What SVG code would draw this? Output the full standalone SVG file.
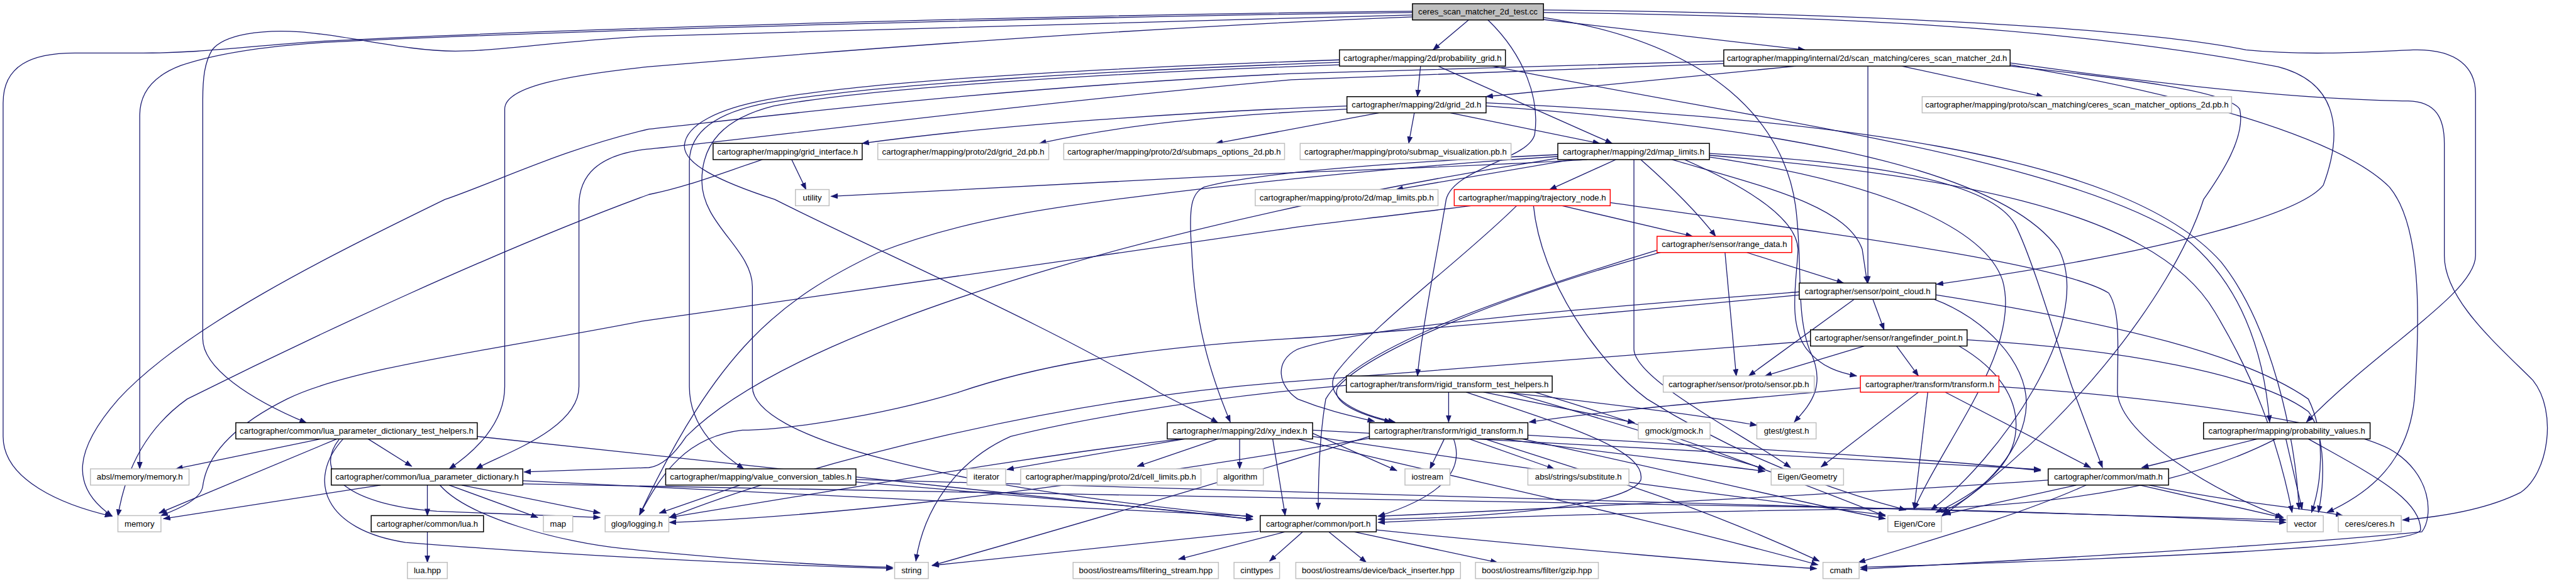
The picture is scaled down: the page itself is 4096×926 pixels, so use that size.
<svg xmlns="http://www.w3.org/2000/svg" width="4096" height="926" viewBox="0 0 4096 926">
<style>
.node rect{fill:#fff;stroke-width:1.5}
.blk rect{stroke:#000}
.gry rect{stroke:#bfbfbf}
.red rect{stroke:#ff0000}
.root rect{fill:#bfbfbf;stroke:#000}
text{font-family:"Liberation Sans",Arial,sans-serif;font-size:13.3px;text-anchor:middle;fill:#000}
.edges path{fill:none;stroke:#191970;stroke-width:1.3;marker-end:url(#a)}
</style>
<defs>
<marker id="a" viewBox="0 0 12 9" refX="11" refY="4.5" markerWidth="12" markerHeight="9" markerUnits="userSpaceOnUse" orient="auto"><path d="M0,0L12,4.5L0,9z" fill="#191970"/></marker>
</defs>
<rect width="4096" height="926" fill="#fff"/>
<g transform="scale(0.992)">
<g class="edges" id="edges">
<path d="M2354,32 L2297,80"/>
<path d="M2471,31 L2893,80"/>
<path d="M2264,18 C1700,24 900,46 520,66 C400,73 330,85 230,85 L120,85 C50,85 5,105 5,165 L5,700 C5,770 100,810 179,828"/>
<path d="M2264,20 C1700,27 900,49 520,68 C410,75 340,88 290,105 C245,122 224,150 224,185 L224,752"/>
<path d="M2264,24 C1800,36 1300,50 1040,58 C900,65 800,82 730,82 C650,82 560,57 480,51 C420,47 360,55 340,80 C328,100 325,125 325,160 L325,543 C325,590 400,640 491,678"/>
<path d="M2264,27 C1800,45 1300,85 1040,107 C900,122 809,140 809,175 L809,620 C809,680 760,725 720,752"/>
<path d="M2385,32 C2445,90 2468,160 2460,215 C2452,255 2330,270 2318,320 C2305,400 2280,520 2272,603"/>
<path d="M2474,20 C2900,25 3300,40 3651,107 C3740,130 3760,200 3724,297 C3690,340 3500,400 3104,456"/>
<path d="M2474,16 C2900,20 3400,40 3600,80 C3700,90 3800,83 3868,80 C3940,78 3968,110 3968,150 L3968,410 C3968,470 3810,560 3697,677"/>
<path d="M2474,28 C2750,70 2860,200 2878,330 C2890,420 2878,500 2900,560 C2930,620 2900,650 2876,677"/>
<path d="M2277,106 L2272,155"/>
<path d="M2305,106 L2584,230"/>
<path d="M2147,96 C1800,108 1400,128 1229,160 C1150,175 1100,200 1097,233 C1095,262 1150,290 1242,320 C1400,400 1700,530 1859,630 C1900,652 1930,665 1952,678"/>
<path d="M2147,100 C1800,112 1400,135 1230,165 C1150,180 1105,210 1105,260 L1105,620 C1105,690 1160,730 1192,752"/>
<path d="M2147,104 C1800,116 1400,140 1240,170 C1160,190 1125,230 1125,290 C1125,360 1206,400 1206,460 L1206,620 C1206,700 1500,780 2008,829"/>
<path d="M2392,106 C2800,190 3300,250 3500,380 C3600,460 3630,580 3638,677"/>
<path d="M2879,106 L2382,155"/>
<path d="M2994,106 L2994,454"/>
<path d="M3048,106 L3275,155"/>
<path d="M2763,98 C2400,108 2100,115 2070,118 C1600,140 1200,190 1040,207 C900,240 800,290 713,320 C550,400 300,520 190,640 C120,720 110,780 180,828"/>
<path d="M2763,102 C2400,115 2200,125 2070,128 C1600,170 1150,230 1030,240 C960,250 928,280 928,330 L928,620 C928,690 800,730 763,752"/>
<path d="M3222,101 C3500,140 3700,160 3860,162 C3905,163 3918,190 3918,230 L3918,410 C3918,480 4000,550 4060,610 C4100,660 4085,760 4040,790 C3980,820 3900,830 3851,834"/>
<path d="M3222,104 C3500,150 3750,220 3830,300 C3880,360 3880,500 3870,640 C3860,740 3800,790 3730,822"/>
<path d="M3222,106 C3400,125 3570,145 3590,175 C3600,220 3560,280 3532,320 C3480,480 3300,700 3112,828"/>
<path d="M2159,170 C1900,180 1600,200 1382,230"/>
<path d="M2159,175 C1950,185 1800,200 1666,230"/>
<path d="M2210,181 L1949,230"/>
<path d="M2267,181 L2258,230"/>
<path d="M2325,181 L2564,230"/>
<path d="M2382,165 C2900,190 3400,240 3560,420 C3640,520 3680,700 3685,817"/>
<path d="M2382,170 C2800,200 3200,260 3300,400 C3360,520 3200,740 3095,818"/>
<path d="M1269,256 L1292,304"/>
<path d="M1222,256 C1150,280 1100,300 1040,312 C800,400 500,540 300,640 C230,690 200,760 189,828"/>
<path d="M2590,256 L2484,304"/>
<path d="M2630,256 C2680,300 2720,340 2750,379"/>
<path d="M2544,256 C2400,265 2200,272 2070,277 C1800,290 1500,305 1332,315"/>
<path d="M2520,256 L2238,304"/>
<path d="M2680,256 C2830,300 2960,330 2985,400 L2993,454"/>
<path d="M2700,256 C2800,300 2880,350 2882,400 C2880,450 2865,520 2896,560 C2920,590 2950,598 2976,603"/>
<path d="M2497,248 C2200,262 2000,280 1930,300 C1910,310 1905,330 1910,400 C1915,520 1940,600 1972,677"/>
<path d="M2497,254 C2000,330 1300,500 1100,700 C1080,730 1060,748 1040,750 L840,757"/>
<path d="M2497,251 C2200,270 1950,300 1866,310 C1700,330 1550,350 1408,405 C1250,480 1150,560 1025,826"/>
<path d="M2619,256 L2619,560 C2620,610 2800,700 2870,750"/>
<path d="M2740,246 C3000,260 3190,290 3230,360 C3260,420 3300,560 3321,620 L3370,750"/>
<path d="M2740,249 C3100,280 3450,330 3550,500 C3610,600 3650,700 3674,822"/>
<path d="M2740,252 C3000,290 3180,360 3210,450 C3240,560 3120,700 3068,817"/>
<path d="M2504,330 L2713,379"/>
<path d="M2358,330 C2200,350 2100,360 2060,367 C1700,420 1200,490 1030,515 C800,560 560,590 460,640 C360,690 330,740 325,780 C322,800 290,815 258,827"/>
<path d="M2431,330 C2340,420 2200,520 2140,600 C2120,640 2180,665 2236,677"/>
<path d="M2458,330 C2470,450 2560,580 2640,640 C2800,740 2950,790 3055,818"/>
<path d="M2581,325 C2900,370 3300,420 3380,470 C3400,500 3394,560 3394,630 C3400,700 3550,790 3660,830"/>
<path d="M2800,405 L2955,454"/>
<path d="M2765,405 L2783,603"/>
<path d="M2664,404 C2420,470 2200,560 2145,620 C2130,645 2180,665 2230,677"/>
<path d="M2660,400 C2400,480 2170,560 2125,640 C2115,700 2113,760 2113,817"/>
<path d="M2972,480 L2803,603"/>
<path d="M3002,480 L3020,529"/>
<path d="M2886,468 C2600,490 2200,520 2080,560 C2040,580 2050,620 2080,640 C2130,660 2170,668 2203,676"/>
<path d="M2886,473 C2500,510 2200,535 2070,543 C1800,560 1650,590 1534,630 C1400,670 1250,690 1190,690 C1100,700 1060,760 1025,826"/>
<path d="M3100,480 C3180,510 3250,580 3248,650 C3245,720 3180,790 3112,822"/>
<path d="M3103,473 C3400,520 3600,570 3700,640 C3730,700 3720,780 3705,822"/>
<path d="M2988,555 L2829,603"/>
<path d="M3040,555 L3075,603"/>
<path d="M2902,547 C2500,580 2200,600 2070,612 C1700,640 1300,740 1073,830"/>
<path d="M3153,545 C3400,560 3620,600 3700,660 C3730,700 3725,780 3716,822"/>
<path d="M3140,555 C3200,590 3240,640 3230,700 C3220,760 3150,800 3103,822"/>
<path d="M2982,622 C2800,640 2600,655 2451,677"/>
<path d="M3075,629 L2919,749"/>
<path d="M3204,620 C3500,640 3750,680 3830,720 C3900,760 3900,830 3882,853 C3600,880 3200,900 2982,913"/>
<path d="M3118,629 L3351,750"/>
<path d="M3090,629 L3068,817"/>
<path d="M2322,629 L2322,677"/>
<path d="M2378,629 L2620,678"/>
<path d="M2411,629 C2600,650 2750,670 2816,682"/>
<path d="M2158,618 C1900,640 1700,680 1620,700 C1530,740 1480,820 1468,900"/>
<path d="M2350,629 C2500,680 2640,720 2630,770 C2610,810 2400,830 2209,833"/>
<path d="M2420,629 C2600,680 2750,730 2829,752"/>
<path d="M2460,629 C2700,700 2900,780 3022,828"/>
<path d="M2315,704 L2292,752"/>
<path d="M2355,704 L2491,752"/>
<path d="M2410,704 C2600,730 2750,745 2829,756"/>
<path d="M2440,704 C2700,760 2900,810 3022,832"/>
<path d="M2330,704 C2350,760 2300,800 2209,828"/>
<path d="M2449,698 C2800,720 3100,735 3271,755"/>
<path d="M2195,700 C2000,760 1800,820 1494,907"/>
<path d="M2195,703 C1800,770 1400,825 1073,838"/>
<path d="M2380,704 C2550,760 2700,800 2916,900"/>
<path d="M1899,704 L1614,753"/>
<path d="M1952,704 L1823,748"/>
<path d="M1987,704 L1987,752"/>
<path d="M1905,703 C1700,725 1500,760 1073,830"/>
<path d="M2104,695 L2239,755"/>
<path d="M2104,690 C2600,720 3000,740 3271,753"/>
<path d="M2040,704 L2060,827"/>
<path d="M2104,700 C2500,760 2800,800 3022,826"/>
<path d="M2080,704 C2300,760 2600,820 2914,906"/>
<path d="M514,704 L282,752"/>
<path d="M540,704 L255,823"/>
<path d="M590,704 L660,748"/>
<path d="M544,704 C500,760 560,810 700,820 C850,826 920,828 962,830"/>
<path d="M550,704 C490,770 520,850 650,870 C900,890 1200,905 1431,912"/>
<path d="M765,700 C1300,760 1700,800 2008,833"/>
<path d="M610,778 L262,832"/>
<path d="M685,778 L685,827"/>
<path d="M720,778 L862,830"/>
<path d="M740,778 L962,823"/>
<path d="M705,778 C750,830 900,870 1000,880 C1200,900 1350,908 1431,910"/>
<path d="M838,771 C1300,790 1700,810 2008,828"/>
<path d="M838,776 C1500,790 2500,805 3000,815 C3300,822 3500,830 3664,838"/>
<path d="M685,853 L685,902"/>
<path d="M1186,778 L1057,823"/>
<path d="M1372,773 C1700,800 1900,820 2008,833"/>
<path d="M1372,769 C2200,790 3000,810 3664,834"/>
<path d="M3618,704 L3433,750"/>
<path d="M3664,704 L3690,817"/>
<path d="M3700,704 C3800,760 3880,800 3880,850 C3870,880 3300,900 2982,910"/>
<path d="M3648,704 C3500,780 3300,810 3090,815 C2700,820 2400,828 2209,838"/>
<path d="M3328,778 L3116,825"/>
<path d="M3344,778 C3250,820 3150,850 2979,902"/>
<path d="M3430,778 L3658,830"/>
<path d="M3445,778 C3600,810 3700,815 3755,827"/>
<path d="M3283,770 C3000,790 2500,815 2209,828"/>
<path d="M2018,852 L1494,907"/>
<path d="M2060,853 L1889,897"/>
<path d="M2088,853 L2035,900"/>
<path d="M2130,853 L2190,902"/>
<path d="M2170,853 L2400,902"/>
<path d="M2206,850 C2500,880 2800,905 2912,912"/>
</g>
<g id="n0" class="node root"><rect x="2264" y="6" width="210" height="26"/><text x="2369" y="23.5">ceres_scan_matcher_2d_test.cc</text></g>
<g id="n1" class="node blk"><rect x="2147" y="80" width="266" height="26"/><text x="2280" y="97.5">cartographer/mapping/2d/probability_grid.h</text></g>
<g id="n2" class="node blk"><rect x="2763" y="80" width="459" height="26"/><text x="2992.5" y="97.5">cartographer/mapping/internal/2d/scan_matching/ceres_scan_matcher_2d.h</text></g>
<g id="n3" class="node blk"><rect x="2159" y="155" width="223" height="26"/><text x="2270.5" y="172.5">cartographer/mapping/2d/grid_2d.h</text></g>
<g id="n9" class="node gry"><rect x="3081" y="155" width="496" height="26"/><text x="3329" y="172.5">cartographer/mapping/proto/scan_matching/ceres_scan_matcher_options_2d.pb.h</text></g>
<g id="n4" class="node blk"><rect x="1143" y="230" width="239" height="26"/><text x="1262.5" y="247.5">cartographer/mapping/grid_interface.h</text></g>
<g id="n5" class="node gry"><rect x="1407" y="230" width="274" height="26"/><text x="1544" y="247.5">cartographer/mapping/proto/2d/grid_2d.pb.h</text></g>
<g id="n6" class="node gry"><rect x="1705" y="230" width="354" height="26"/><text x="1882" y="247.5">cartographer/mapping/proto/2d/submaps_options_2d.pb.h</text></g>
<g id="n7" class="node gry"><rect x="2084" y="230" width="338" height="26"/><text x="2253" y="247.5">cartographer/mapping/proto/submap_visualization.pb.h</text></g>
<g id="n8" class="node blk"><rect x="2497" y="230" width="243" height="26"/><text x="2618.5" y="247.5">cartographer/mapping/2d/map_limits.h</text></g>
<g id="n10" class="node gry"><rect x="1275" y="304" width="54" height="26"/><text x="1302" y="321.5">utility</text></g>
<g id="n11" class="node gry"><rect x="2012" y="304" width="293" height="26"/><text x="2158.5" y="321.5">cartographer/mapping/proto/2d/map_limits.pb.h</text></g>
<g id="n12" class="node red"><rect x="2331" y="304" width="250" height="26"/><text x="2456" y="321.5">cartographer/mapping/trajectory_node.h</text></g>
<g id="n13" class="node red"><rect x="2656" y="379" width="216" height="26"/><text x="2764" y="396.5">cartographer/sensor/range_data.h</text></g>
<g id="n14" class="node blk"><rect x="2884" y="454" width="219" height="26"/><text x="2993.5" y="471.5">cartographer/sensor/point_cloud.h</text></g>
<g id="n15" class="node blk"><rect x="2902" y="529" width="251" height="26"/><text x="3027.5" y="546.5">cartographer/sensor/rangefinder_point.h</text></g>
<g id="n16" class="node blk"><rect x="2158" y="603" width="330" height="26"/><text x="2323" y="620.5">cartographer/transform/rigid_transform_test_helpers.h</text></g>
<g id="n17" class="node gry"><rect x="2666" y="603" width="242" height="26"/><text x="2787" y="620.5">cartographer/sensor/proto/sensor.pb.h</text></g>
<g id="n18" class="node red"><rect x="2982" y="603" width="222" height="26"/><text x="3093" y="620.5">cartographer/transform/transform.h</text></g>
<g id="n19" class="node blk"><rect x="378" y="678" width="387" height="26"/><text x="571.5" y="695.5">cartographer/common/lua_parameter_dictionary_test_helpers.h</text></g>
<g id="n20" class="node blk"><rect x="1871" y="678" width="233" height="26"/><text x="1987.5" y="695.5">cartographer/mapping/2d/xy_index.h</text></g>
<g id="n21" class="node blk"><rect x="2195" y="678" width="254" height="26"/><text x="2322" y="695.5">cartographer/transform/rigid_transform.h</text></g>
<g id="n22" class="node gry"><rect x="2626" y="678" width="115" height="26"/><text x="2683.5" y="695.5">gmock/gmock.h</text></g>
<g id="n23" class="node gry"><rect x="2816" y="678" width="95" height="26"/><text x="2863.5" y="695.5">gtest/gtest.h</text></g>
<g id="n24" class="node blk"><rect x="3532" y="678" width="267" height="26"/><text x="3665.5" y="695.5">cartographer/mapping/probability_values.h</text></g>
<g id="n25" class="node gry"><rect x="145" y="752" width="158" height="26"/><text x="224" y="769.5">absl/memory/memory.h</text></g>
<g id="n26" class="node blk"><rect x="531" y="752" width="307" height="26"/><text x="684.5" y="769.5">cartographer/common/lua_parameter_dictionary.h</text></g>
<g id="n27" class="node blk"><rect x="1067" y="752" width="305" height="26"/><text x="1219.5" y="769.5">cartographer/mapping/value_conversion_tables.h</text></g>
<g id="n28" class="node gry"><rect x="1550" y="752" width="62" height="26"/><text x="1581" y="769.5">iterator</text></g>
<g id="n29" class="node gry"><rect x="1636" y="752" width="289" height="26"/><text x="1780.5" y="769.5">cartographer/mapping/proto/2d/cell_limits.pb.h</text></g>
<g id="n30" class="node gry"><rect x="1951" y="752" width="74" height="26"/><text x="1988" y="769.5">algorithm</text></g>
<g id="n31" class="node gry"><rect x="2252" y="752" width="72" height="26"/><text x="2288" y="769.5">iostream</text></g>
<g id="n32" class="node gry"><rect x="2449" y="752" width="162" height="26"/><text x="2530" y="769.5">absl/strings/substitute.h</text></g>
<g id="n33" class="node gry"><rect x="2839" y="752" width="116" height="26"/><text x="2897" y="769.5">Eigen/Geometry</text></g>
<g id="n34" class="node blk"><rect x="3283" y="752" width="193" height="26"/><text x="3379.5" y="769.5">cartographer/common/math.h</text></g>
<g id="n35" class="node gry"><rect x="189" y="827" width="69" height="26"/><text x="223.5" y="844.5">memory</text></g>
<g id="n36" class="node blk"><rect x="595" y="827" width="180" height="26"/><text x="685" y="844.5">cartographer/common/lua.h</text></g>
<g id="n37" class="node gry"><rect x="871" y="827" width="47" height="26"/><text x="894.5" y="844.5">map</text></g>
<g id="n38" class="node gry"><rect x="970" y="827" width="102" height="26"/><text x="1021" y="844.5">glog/logging.h</text></g>
<g id="n39" class="node blk"><rect x="2020" y="827" width="186" height="26"/><text x="2113" y="844.5">cartographer/common/port.h</text></g>
<g id="n40" class="node gry"><rect x="3026" y="827" width="86" height="26"/><text x="3069" y="844.5">Eigen/Core</text></g>
<g id="n41" class="node gry"><rect x="3666" y="827" width="58" height="26"/><text x="3695" y="844.5">vector</text></g>
<g id="n42" class="node gry"><rect x="3748" y="827" width="101" height="26"/><text x="3798.5" y="844.5">ceres/ceres.h</text></g>
<g id="n43" class="node gry"><rect x="653" y="902" width="64" height="26"/><text x="685" y="919.5">lua.hpp</text></g>
<g id="n44" class="node gry"><rect x="1434" y="902" width="54" height="26"/><text x="1461" y="919.5">string</text></g>
<g id="n45" class="node gry"><rect x="1720" y="902" width="233" height="26"/><text x="1836.5" y="919.5">boost/iostreams/filtering_stream.hpp</text></g>
<g id="n46" class="node gry"><rect x="1978" y="902" width="73" height="26"/><text x="2014.5" y="919.5">cinttypes</text></g>
<g id="n47" class="node gry"><rect x="2077" y="902" width="264" height="26"/><text x="2209" y="919.5">boost/iostreams/device/back_inserter.hpp</text></g>
<g id="n48" class="node gry"><rect x="2365" y="902" width="197" height="26"/><text x="2463.5" y="919.5">boost/iostreams/filter/gzip.hpp</text></g>
<g id="n49" class="node gry"><rect x="2922" y="902" width="58" height="26"/><text x="2951" y="919.5">cmath</text></g>
</g>
</svg>
